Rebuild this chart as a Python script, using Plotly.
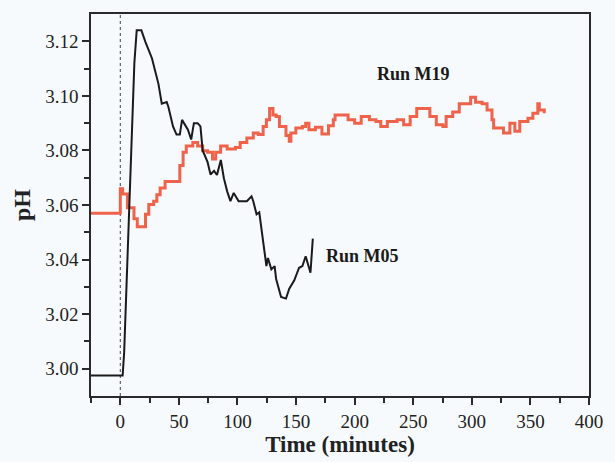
import plotly.graph_objects as go

# Run M05 (black)
m05_time = [-25, 2, 3.3, 7.5, 9.2, 12, 14, 18, 21.5, 27, 32.6, 35.4, 39.6, 41, 45, 48, 50.8, 52.7,
            57.7, 60.5, 62.8, 66, 68.4, 70.3, 74.5, 77, 80, 82.5, 85.8, 88.4, 91.2, 94, 96.8, 101,
            108, 112, 113.5, 116.3, 118.6, 120.5, 123.3, 124.7, 126, 128.9, 131.7, 133, 137.2,
            141.4, 144.2, 148.4, 152.6, 155.4, 158.2, 162.3, 164.3]
m05_ph = [2.9975, 2.9975, 3.006, 3.055, 3.080, 3.112, 3.124, 3.124, 3.1197, 3.1138, 3.1043, 3.0971,
          3.0977, 3.096, 3.0888, 3.0858, 3.0858, 3.0912, 3.0876, 3.084, 3.090, 3.090, 3.0888, 3.080,
          3.0757, 3.0712, 3.0725, 3.0710, 3.0765, 3.0698, 3.065, 3.0614, 3.0644, 3.0614, 3.0614,
          3.0632, 3.0614, 3.0566, 3.0573, 3.0507, 3.0406, 3.0376, 3.0406, 3.0364, 3.0376, 3.0329,
          3.0263, 3.0257, 3.0293, 3.0323, 3.037, 3.0376, 3.0412, 3.0352, 3.0477]

# Run M19 (red)
m19_time = [-25, 0, 0, 2, 6.1, 11.7, 14.5, 20, 21.5, 24.3, 28.5, 31.2, 34, 38.2, 43.8, 48, 50.8, 53.6,
            56.3, 61.9, 66, 70.3, 74.5, 78.7, 81.4, 85.6, 91.2, 98.2, 102.3, 108, 113.5, 117.7, 121.9,
            124.7, 127.4, 130.3, 133, 135.8, 141.4, 144.2, 145.6, 149.8, 155.4, 158.2, 161, 166.5,
            172.1, 177.7, 181.8, 183.3, 188.8, 194.4, 200, 205.6, 212.6, 218.2, 222.3, 227.9, 236.2,
            241.8, 247.4, 253, 258.6, 264.2, 269.7, 275.3, 278.1, 283.7, 289.3, 294.8, 299, 303.2,
            308.8, 313, 317.2, 318.6, 325.5, 327, 332.5, 336.7, 340.9, 347.9, 352.1, 356.3, 357.6, 361.8]
m19_ph = [3.057, 3.057, 3.066, 3.064, 3.059, 3.055, 3.052, 3.052, 3.0566, 3.0602, 3.0614, 3.0638,
          3.0662, 3.0686, 3.0686, 3.0686, 3.0745, 3.0793, 3.0816, 3.0829, 3.0816, 3.0799, 3.0793,
          3.0769, 3.0793, 3.0816, 3.0805, 3.0811, 3.0829, 3.0846, 3.0864, 3.0858, 3.0888, 3.0912,
          3.0954, 3.093, 3.0924, 3.0888, 3.0855, 3.0834, 3.0864, 3.0882, 3.0888, 3.09, 3.0876,
          3.0885, 3.086, 3.089, 3.0912, 3.093, 3.093, 3.0912, 3.09, 3.0924, 3.0912, 3.0906, 3.0888,
          3.0906, 3.0912, 3.0894, 3.0924, 3.0954, 3.0954, 3.0924, 3.0894, 3.0888, 3.0924, 3.0941,
          3.0971, 3.0971, 3.0995, 3.0977, 3.0971, 3.0948, 3.0912, 3.0882, 3.0882, 3.0864, 3.09,
          3.087, 3.0906, 3.0918, 3.0936, 3.0971, 3.0948, 3.0936]

x_ticks = [0, 50, 100, 150, 200, 250, 300, 350, 400]
y_ticks = [3.00, 3.02, 3.04, 3.06, 3.08, 3.10, 3.12]

BG = "#f7fafd"
AX = "#2a2a2a"
FONT = "Liberation Serif"

fig = go.Figure()
fig.add_trace(go.Scatter(x=m19_time, y=m19_ph, mode="lines",
                         line=dict(color="#f0634b", width=3, shape="hv"),
                         name="Run M19", showlegend=False))
fig.add_trace(go.Scatter(x=m05_time, y=m05_ph, mode="lines", line=dict(color="#1a1a1a", width=2),
                         name="Run M05", showlegend=False))

fig.add_shape(type="line", xref="x", yref="paper", x0=0, x1=0, y0=0, y1=1,
              line=dict(color="#444444", width=1, dash="dot"), layer="below")

fig.add_annotation(x=250, y=3.108, text="<b>Run M19</b>", showarrow=False,
                   font=dict(family=FONT, size=18, color="#1a1a1a"))
fig.add_annotation(x=174, y=3.0412, text="<b>Run M05</b>", showarrow=False, xanchor="left",
                   font=dict(family=FONT, size=18, color="#1a1a1a"))

fig.update_xaxes(range=[-25, 400], tickvals=x_ticks, ticks="outside", ticklen=7, tickwidth=1.5,
                 tickcolor=AX, showline=True, linecolor=AX, linewidth=1.5, mirror=True,
                 showgrid=False, zeroline=False,
                 minor=dict(tickvals=[-25, 25, 75, 125, 175, 225, 275, 325, 375], ticks="outside",
                            ticklen=5, tickwidth=1.5, tickcolor=AX),
                 tickfont=dict(family=FONT, size=19, color="#222"),
                 title=dict(text="<b>Time (minutes)</b>", font=dict(family=FONT, size=23, color="#222"),
                            standoff=2))
fig.update_yaxes(range=[2.99, 3.13], tickvals=y_ticks, tickformat=".2f", ticks="outside", ticklen=7,
                 tickwidth=1.5, tickcolor=AX, showline=True, linecolor=AX, linewidth=1.5, mirror=True,
                 showgrid=False, zeroline=False,
                 minor=dict(tickvals=[3.01, 3.03, 3.05, 3.07, 3.09, 3.11], ticks="outside",
                            ticklen=5, tickwidth=1.5, tickcolor=AX),
                 tickfont=dict(family=FONT, size=19, color="#222"),
                 title=dict(text="<b>pH</b>", font=dict(family=FONT, size=24, color="#222"), standoff=8))

fig.update_layout(width=615, height=462, margin=dict(l=91, r=16, t=12, b=59),
                  paper_bgcolor=BG, plot_bgcolor=BG)

fig.write_html("out.html")
